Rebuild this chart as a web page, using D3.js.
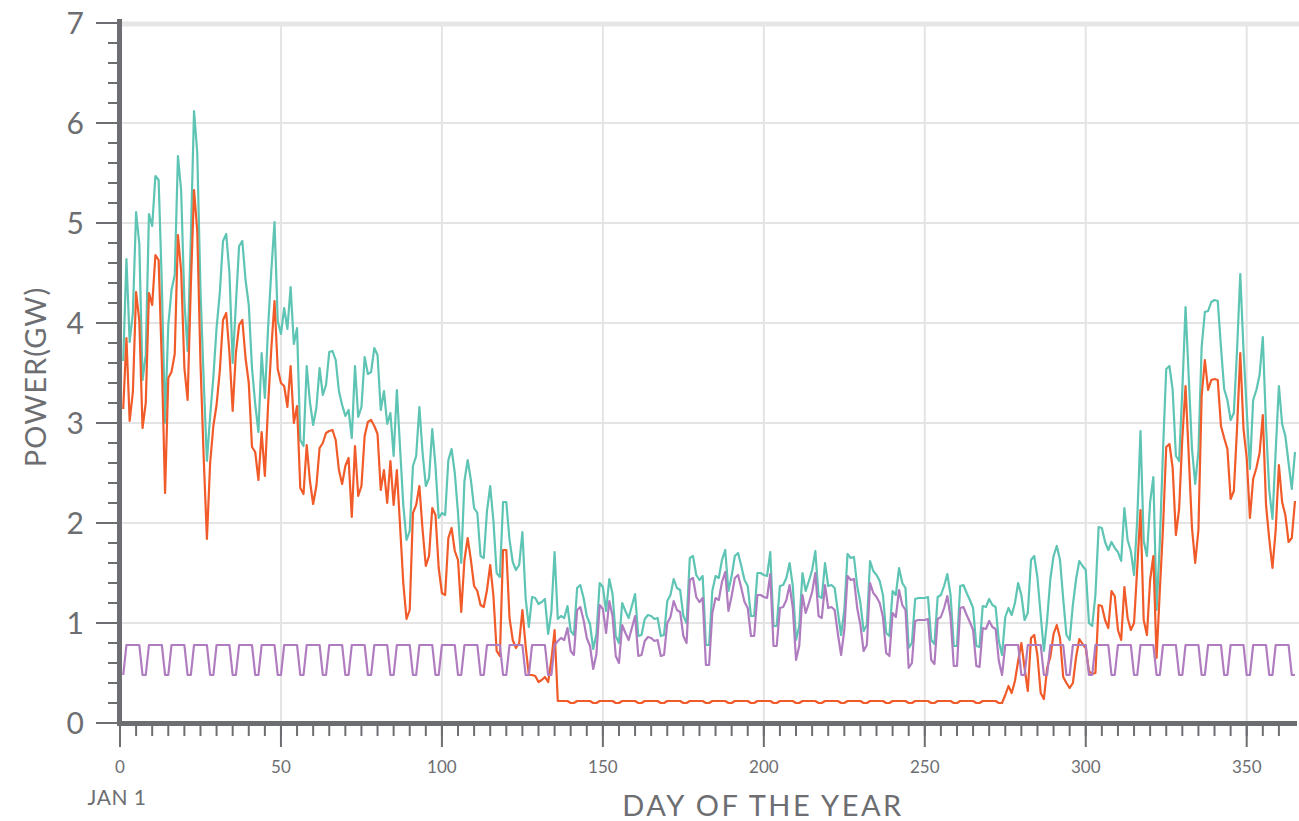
<!DOCTYPE html>
<html>
<head>
<meta charset="utf-8">
<script src="https://cdn.jsdelivr.net/npm/d3@7"></script>
<style>
  html, body { margin: 0; padding: 0; background: #fff; }
  svg { display: block; }
  text { font-family: Lato, "Open Sans", sans-serif; fill: #6d6e71; }
</style>
</head>
<body>
<svg id="chart" width="1299" height="821"></svg>
<script>
// daily values, day 1 .. day 365
var firstDay = 1;
var xTicks = [0, 50, 100, 150, 200, 250, 300, 350];
var yTicks = [0, 1, 2, 3, 4, 5, 6, 7];

var total = [
  3.62,4.64,3.81,4.10,5.11,4.79,3.43,3.68,5.09,4.97,
  5.47,5.43,4.38,3.00,3.98,4.33,4.48,5.67,5.32,4.22,
  3.72,4.85,6.12,5.70,4.33,3.42,2.62,3.07,3.46,3.95,
  4.30,4.82,4.89,4.50,3.60,4.19,4.77,4.82,4.43,4.18,
  3.55,3.19,2.91,3.70,3.25,3.95,4.52,5.01,4.02,3.89,
  4.15,3.94,4.36,3.79,3.95,2.83,2.77,3.57,3.21,2.98,
  3.15,3.55,3.28,3.38,3.71,3.72,3.63,3.32,3.18,3.07,
  3.13,2.85,3.57,3.06,3.16,3.66,3.49,3.51,3.75,3.68,
  3.13,3.32,2.99,3.10,2.67,3.33,2.75,2.18,1.83,1.92,
  2.57,2.67,3.16,2.70,2.37,2.45,2.94,2.57,2.05,2.10,
  2.08,2.63,2.74,2.50,2.10,1.60,2.42,2.63,2.43,2.15,
  2.10,1.67,1.65,2.12,2.37,2.02,1.50,1.46,2.21,2.21,
  1.83,1.61,1.53,1.58,1.91,1.25,0.96,1.26,1.25,1.19,
  1.21,1.24,0.89,1.11,1.71,1.04,1.07,1.05,1.17,0.92,
  0.88,1.35,1.38,1.25,1.07,0.99,0.74,0.89,1.40,1.36,
  1.12,1.44,1.29,0.87,0.80,1.20,1.12,1.05,1.17,1.29,
  0.87,0.88,1.04,1.08,1.07,1.04,1.05,0.87,0.88,1.22,
  1.28,1.44,1.35,1.33,1.07,1.00,1.65,1.67,1.48,1.43,
  1.47,0.78,0.78,1.32,1.47,1.45,1.63,1.73,1.32,1.47,
  1.67,1.70,1.57,1.43,1.37,1.07,1.07,1.50,1.50,1.48,
  1.47,1.71,0.97,0.97,1.37,1.38,1.45,1.60,1.37,0.83,
  0.97,1.50,1.32,1.42,1.53,1.72,1.27,1.25,1.60,1.37,
  1.38,1.35,1.11,0.88,1.13,1.69,1.65,1.66,1.37,1.20,
  0.92,0.98,1.62,1.52,1.48,1.42,1.28,0.90,0.87,1.32,
  1.28,1.55,1.40,1.35,0.75,0.80,1.24,1.25,1.25,1.25,
  1.26,0.83,0.79,1.26,1.28,1.37,1.49,1.28,0.77,0.77,
  1.37,1.38,1.30,1.23,1.15,0.77,0.76,1.17,1.16,1.24,
  1.18,1.16,0.82,0.68,1.06,1.15,1.08,1.20,1.40,1.28,
  1.03,1.10,1.63,1.67,1.45,1.08,0.72,1.03,1.44,1.67,
  1.77,1.63,1.24,0.88,0.83,1.18,1.44,1.62,1.57,1.53,
  1.00,0.97,1.28,1.96,1.95,1.81,1.73,1.81,1.75,1.71,
  1.62,2.15,1.83,1.72,1.48,2.04,2.92,1.82,1.67,2.21,
  2.46,1.13,1.80,2.73,3.54,3.57,3.33,2.67,2.62,3.33,
  4.16,3.45,2.74,2.39,2.72,3.76,4.11,4.12,4.21,4.23,
  4.22,3.76,3.34,3.23,3.03,3.10,3.73,4.49,3.73,3.13,
  2.54,3.23,3.33,3.48,3.86,2.97,2.33,2.04,2.72,3.37,
  2.99,2.87,2.60,2.34,2.71
];

var heating = [
  3.14,3.85,3.02,3.31,4.31,4.02,2.95,3.20,4.30,4.18,
  4.68,4.63,3.60,2.30,3.45,3.51,3.69,4.88,4.52,3.55,
  3.23,4.37,5.33,4.92,3.60,2.65,1.84,2.60,2.97,3.18,
  3.52,4.03,4.10,3.70,3.12,3.70,3.98,4.03,3.65,3.40,
  2.76,2.71,2.43,2.91,2.47,3.18,3.74,4.22,3.54,3.40,
  3.37,3.16,3.57,3.00,3.17,2.35,2.29,2.78,2.42,2.19,
  2.37,2.75,2.80,2.90,2.92,2.93,2.83,2.53,2.39,2.57,
  2.65,2.06,2.77,2.27,2.37,2.87,3.01,3.03,2.97,2.89,
  2.33,2.53,2.20,2.62,2.18,2.53,1.97,1.40,1.04,1.13,
  2.10,2.18,2.37,1.93,1.57,1.67,2.15,2.08,1.55,1.30,
  1.28,1.85,1.95,1.72,1.63,1.11,1.63,1.85,1.63,1.37,
  1.32,1.18,1.16,1.33,1.58,1.27,0.72,0.67,1.73,1.73,
  1.05,0.83,0.75,0.80,1.13,0.77,0.48,0.48,0.47,0.41,
  0.43,0.46,0.41,0.63,0.93,0.22,0.22,0.22,0.22,0.20,
  0.20,0.22,0.22,0.22,0.22,0.22,0.20,0.20,0.22,0.22,
  0.22,0.22,0.22,0.20,0.20,0.22,0.22,0.22,0.22,0.22,
  0.20,0.20,0.22,0.22,0.22,0.22,0.22,0.20,0.20,0.22,
  0.22,0.22,0.22,0.22,0.20,0.20,0.22,0.22,0.22,0.22,
  0.22,0.20,0.20,0.22,0.22,0.22,0.22,0.22,0.20,0.20,
  0.22,0.22,0.22,0.22,0.22,0.20,0.20,0.22,0.22,0.22,
  0.22,0.22,0.20,0.20,0.22,0.22,0.22,0.22,0.22,0.20,
  0.20,0.22,0.22,0.22,0.22,0.22,0.20,0.20,0.22,0.22,
  0.22,0.22,0.22,0.20,0.20,0.22,0.22,0.22,0.22,0.22,
  0.20,0.20,0.22,0.22,0.22,0.22,0.22,0.20,0.20,0.22,
  0.22,0.22,0.22,0.22,0.20,0.20,0.22,0.22,0.22,0.22,
  0.22,0.20,0.20,0.22,0.22,0.22,0.22,0.22,0.20,0.20,
  0.22,0.22,0.22,0.22,0.22,0.20,0.20,0.22,0.22,0.22,
  0.22,0.22,0.20,0.20,0.28,0.37,0.30,0.42,0.62,0.80,
  0.55,0.32,0.85,0.88,0.67,0.30,0.24,0.55,0.66,0.89,
  0.98,0.85,0.46,0.40,0.35,0.40,0.66,0.84,0.79,0.75,
  0.52,0.49,0.50,1.18,1.17,1.03,0.95,1.32,1.27,0.93,
  0.83,1.36,1.05,0.93,1.00,1.55,2.13,1.03,0.88,1.43,
  1.67,0.65,1.32,1.95,2.76,2.79,2.55,1.88,2.14,2.85,
  3.37,2.67,1.95,1.60,1.93,3.27,3.63,3.33,3.43,3.44,
  3.43,2.97,2.85,2.74,2.24,2.32,2.95,3.70,2.94,2.65,
  2.05,2.44,2.55,2.70,3.08,2.18,1.84,1.55,1.93,2.58,
  2.21,2.08,1.81,1.85,2.22
];

var other = [
  0.48,0.78,0.78,0.78,0.78,0.78,0.48,0.48,0.78,0.78,
  0.78,0.78,0.78,0.48,0.48,0.78,0.78,0.78,0.78,0.78,
  0.48,0.48,0.78,0.78,0.78,0.78,0.78,0.48,0.48,0.78,
  0.78,0.78,0.78,0.78,0.48,0.48,0.78,0.78,0.78,0.78,
  0.78,0.48,0.48,0.78,0.78,0.78,0.78,0.78,0.48,0.48,
  0.78,0.78,0.78,0.78,0.78,0.48,0.48,0.78,0.78,0.78,
  0.78,0.78,0.48,0.48,0.78,0.78,0.78,0.78,0.78,0.48,
  0.48,0.78,0.78,0.78,0.78,0.78,0.48,0.48,0.78,0.78,
  0.78,0.78,0.78,0.48,0.48,0.78,0.78,0.78,0.78,0.78,
  0.48,0.48,0.78,0.78,0.78,0.78,0.78,0.48,0.48,0.78,
  0.78,0.78,0.78,0.78,0.48,0.48,0.78,0.78,0.78,0.78,
  0.78,0.48,0.48,0.78,0.78,0.78,0.78,0.78,0.48,0.48,
  0.78,0.78,0.78,0.78,0.78,0.48,0.48,0.78,0.78,0.78,
  0.78,0.78,0.48,0.48,0.78,0.82,0.85,0.83,0.95,0.72,
  0.68,1.13,1.16,1.03,0.85,0.77,0.54,0.69,1.18,1.14,
  0.90,1.22,1.07,0.67,0.60,0.98,0.90,0.83,0.95,1.07,
  0.67,0.68,0.82,0.86,0.85,0.82,0.83,0.67,0.68,1.00,
  1.06,1.22,1.13,1.11,0.87,0.80,1.43,1.45,1.26,1.21,
  1.25,0.58,0.58,1.10,1.25,1.23,1.41,1.51,1.12,1.27,
  1.45,1.48,1.35,1.21,1.15,0.87,0.87,1.28,1.28,1.26,
  1.25,1.49,0.77,0.77,1.15,1.16,1.23,1.38,1.15,0.63,
  0.77,1.28,1.10,1.20,1.31,1.50,1.07,1.05,1.38,1.15,
  1.16,1.13,0.89,0.68,0.93,1.47,1.43,1.44,1.15,0.98,
  0.72,0.78,1.40,1.30,1.26,1.20,1.06,0.70,0.67,1.10,
  1.06,1.33,1.18,1.13,0.55,0.60,1.02,1.03,1.03,1.03,
  1.04,0.63,0.59,1.04,1.06,1.15,1.27,1.06,0.57,0.57,
  1.15,1.16,1.08,1.01,0.93,0.57,0.56,0.95,0.94,1.02,
  0.96,0.94,0.62,0.48,0.78,0.78,0.78,0.78,0.78,0.48,
  0.48,0.78,0.78,0.78,0.78,0.78,0.48,0.48,0.78,0.78,
  0.78,0.78,0.78,0.48,0.48,0.78,0.78,0.78,0.78,0.78,
  0.48,0.48,0.78,0.78,0.78,0.78,0.78,0.48,0.48,0.78,
  0.78,0.78,0.78,0.78,0.48,0.48,0.78,0.78,0.78,0.78,
  0.78,0.48,0.48,0.78,0.78,0.78,0.78,0.78,0.48,0.48,
  0.78,0.78,0.78,0.78,0.78,0.48,0.48,0.78,0.78,0.78,
  0.78,0.78,0.48,0.48,0.78,0.78,0.78,0.78,0.78,0.48,
  0.48,0.78,0.78,0.78,0.78,0.78,0.48,0.48,0.78,0.78,
  0.78,0.78,0.78,0.48,0.48
];

var series = [
  { name: 'total', values: total, color: '#5ec4b4' },
  { name: 'heating', values: heating, color: '#f15a29' },
  { name: 'other', values: other, color: '#b07cc0' }
];

var axisColor = '#6d6e71';
var gridColor = '#e4e4e4';

var svg = d3.select('#chart');

var x = d3.scaleLinear().domain([0, 365]).range([120, 1295]);
var y = d3.scaleLinear().domain([0, 7]).range([723, 23]);

// grid
var grid = svg.append('g').attr('class', 'grid');
grid.selectAll('line.h')
  .data(yTicks.filter(function (t) { return t > 0 && t < 7; }))
  .enter().append('line')
  .attr('x1', x(0)).attr('x2', 1299)
  .attr('y1', function (d) { return y(d); })
  .attr('y2', function (d) { return y(d); })
  .attr('stroke', gridColor).attr('stroke-width', 2);

grid.selectAll('line.v')
  .data(xTicks.filter(function (t) { return t > 0; }))
  .enter().append('line')
  .attr('x1', function (d) { return x(d); })
  .attr('x2', function (d) { return x(d); })
  .attr('y1', y(7)).attr('y2', y(0))
  .attr('stroke', gridColor).attr('stroke-width', 2);

// top band
grid.append('line')
  .attr('x1', x(0)).attr('x2', 1299)
  .attr('y1', y(7) + 1).attr('y2', y(7) + 1)
  .attr('stroke', '#e6e6e7').attr('stroke-width', 5);

// lines
var line = function (vals) {
  return d3.line()
    .x(function (d, i) { return x(firstDay + i); })
    .y(function (d) { return y(d); })(vals);
};

svg.append('g').attr('class', 'series')
  .selectAll('path')
  .data(series)
  .enter().append('path')
  .attr('d', function (s) { return line(s.values); })
  .attr('fill', 'none')
  .attr('stroke', function (s) { return s.color; })
  .attr('stroke-width', 2.2)
  .attr('stroke-linejoin', 'round');

// y axis
var yAxis = svg.append('g').attr('class', 'y-axis');
var yMinor = d3.range(0, 35).map(function (i) { return i * 0.2; });
yAxis.selectAll('line.minor')
  .data(yMinor)
  .enter().append('line')
  .attr('x1', 108).attr('x2', 118)
  .attr('y1', function (d) { return y(d); })
  .attr('y2', function (d) { return y(d); })
  .attr('stroke', axisColor).attr('stroke-width', 2);
yAxis.selectAll('line.major')
  .data(yTicks)
  .enter().append('line')
  .attr('x1', 96).attr('x2', 118)
  .attr('y1', function (d) { return y(d); })
  .attr('y2', function (d) { return y(d); })
  .attr('stroke', axisColor).attr('stroke-width', 2);
yAxis.selectAll('text')
  .data(yTicks)
  .enter().append('text')
  .attr('x', 84)
  .attr('y', function (d) { return y(d); })
  .attr('dy', '0.36em')
  .attr('text-anchor', 'end')
  .style('font-size', '30px')
  .text(function (d) { return d; });

// x axis
var xAxis = svg.append('g').attr('class', 'x-axis');
var xMinor = d3.range(5, 365, 5);
xAxis.selectAll('line.minor')
  .data(xMinor)
  .enter().append('line')
  .attr('x1', function (d) { return x(d); })
  .attr('x2', function (d) { return x(d); })
  .attr('y1', 725).attr('y2', 736)
  .attr('stroke', axisColor).attr('stroke-width', 2);
xAxis.selectAll('line.major')
  .data(xTicks)
  .enter().append('line')
  .attr('x1', function (d) { return x(d); })
  .attr('x2', function (d) { return x(d); })
  .attr('y1', 725).attr('y2', 747)
  .attr('stroke', axisColor).attr('stroke-width', 2);
xAxis.selectAll('text')
  .data(xTicks)
  .enter().append('text')
  .attr('x', function (d) { return x(d); })
  .attr('y', 773)
  .attr('text-anchor', 'middle')
  .style('font-size', '17px')
  .text(function (d) { return d; });

svg.append('text')
  .attr('x', 117).attr('y', 805)
  .attr('text-anchor', 'middle')
  .style('font-size', '21px')
  .style('letter-spacing', '0.5px')
  .text('JAN 1');

// axis lines on top
svg.append('line')
  .attr('x1', 119.5).attr('x2', 119.5)
  .attr('y1', 19).attr('y2', 726)
  .attr('stroke', axisColor).attr('stroke-width', 5);
svg.append('line')
  .attr('x1', 117).attr('x2', 1297)
  .attr('y1', 723.5).attr('y2', 723.5)
  .attr('stroke', axisColor).attr('stroke-width', 5);

// titles
svg.append('text')
  .attr('x', 763).attr('y', 816)
  .attr('text-anchor', 'middle')
  .style('font-size', '29px')
  .style('letter-spacing', '2.5px')
  .text('DAY OF THE YEAR');

svg.append('text')
  .attr('transform', 'translate(46,377) rotate(-90)')
  .attr('text-anchor', 'middle')
  .style('font-size', '29px')
  .style('letter-spacing', '1px')
  .text('POWER(GW)');
</script>
</body>
</html>
